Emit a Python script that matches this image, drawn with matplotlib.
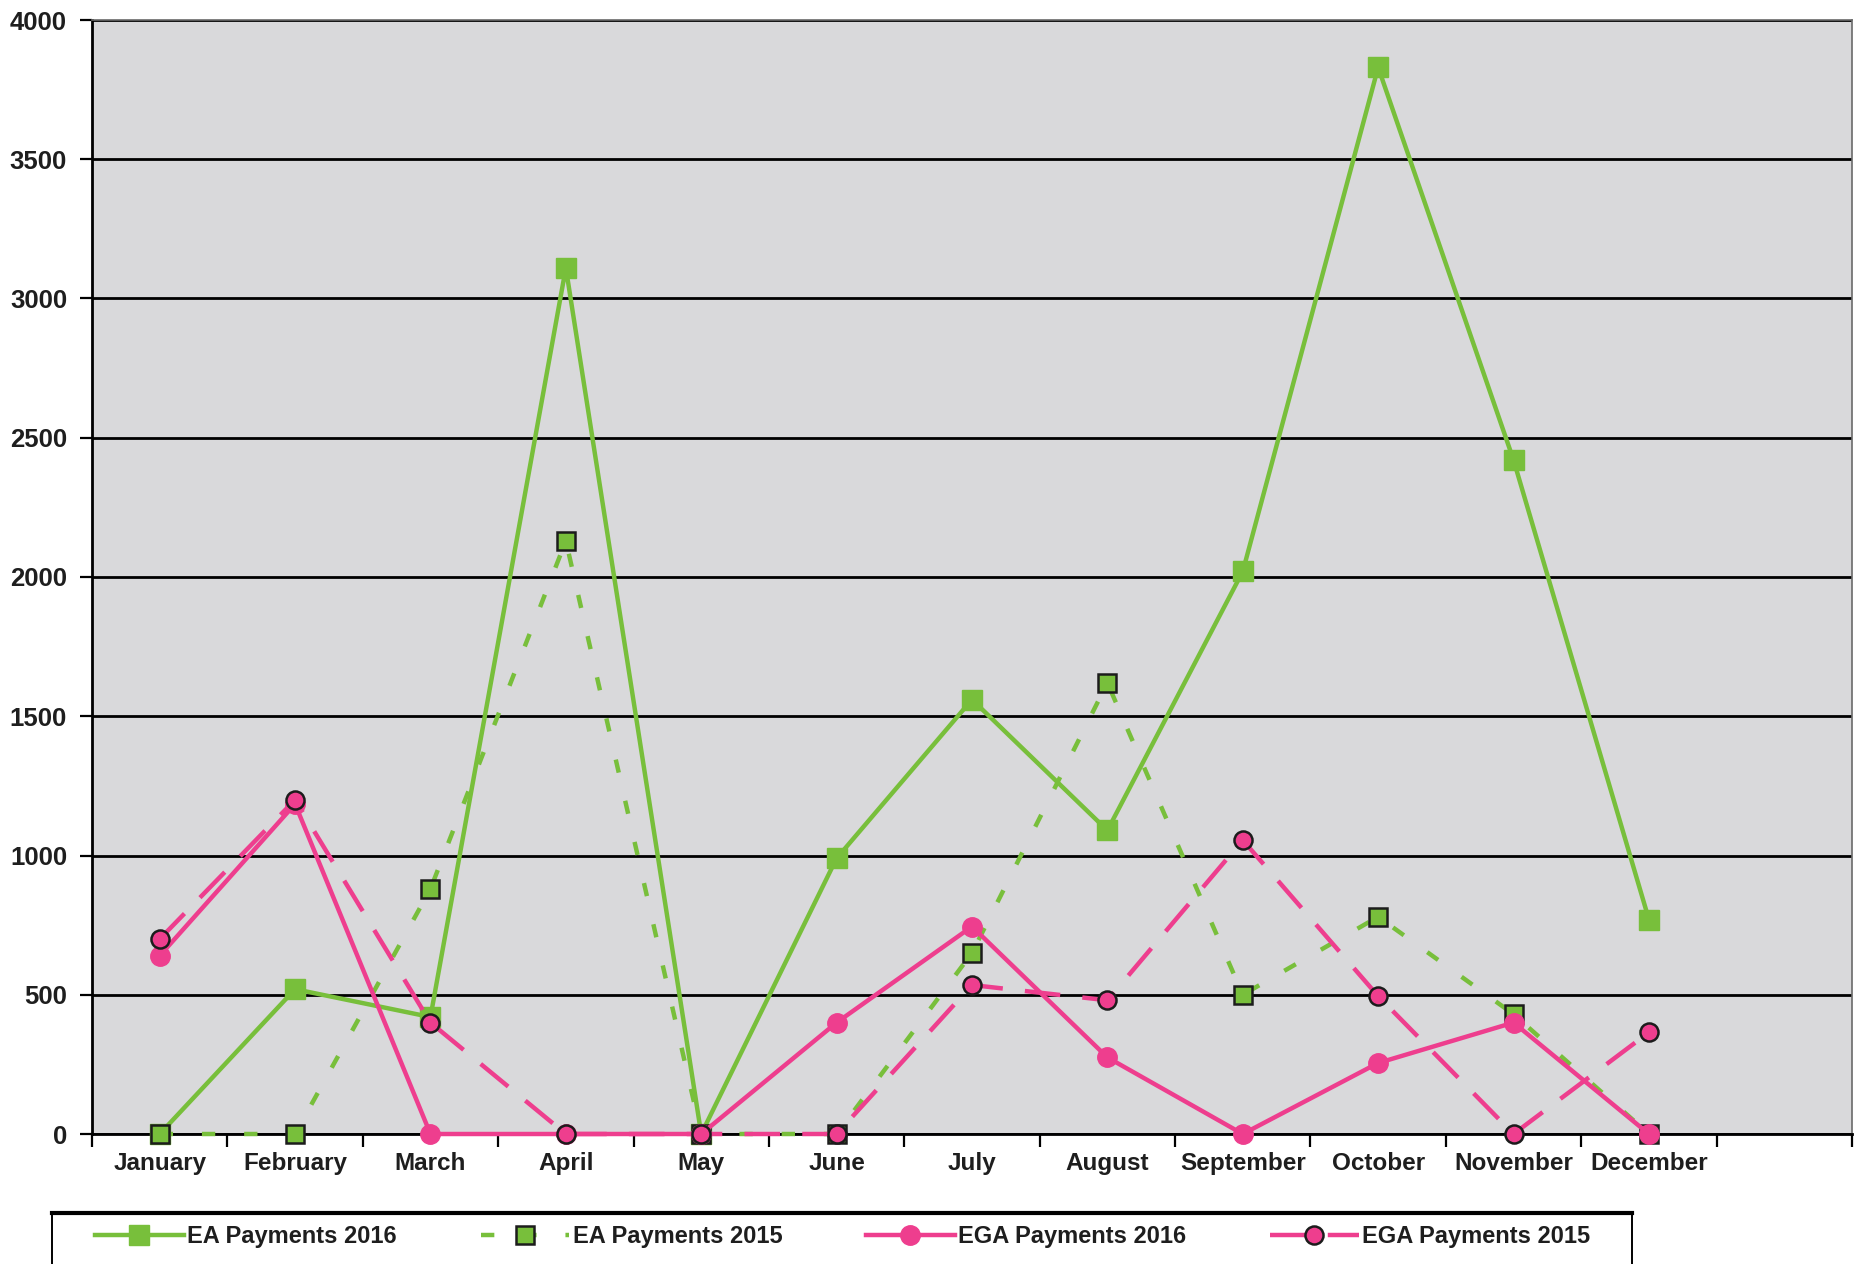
import matplotlib
matplotlib.use("Agg")
import matplotlib.pyplot as plt
from matplotlib.patches import Rectangle
from matplotlib.lines import Line2D

# Monthly payment totals
months = ["January", "February", "March", "April", "May", "June",
          "July", "August", "September", "October", "November", "December"]
ea_2016 = [0, 520, 420, 3110, 0, 990, 1560, 1090, 2020, 3830, 2420, 770]
ea_2015 = [0, 0, 880, 2130, 0, 0, 650, 1620, 500, 780, 430, 0]
ega_2016 = [640, 1185, 0, 0, 0, 400, 745, 275, 0, 255, 400, 0]
ega_2015 = [700, 1200, 400, 0, 0, 0, 535, 480, 1055, 495, 0, 365]
y_ticks = [0, 500, 1000, 1500, 2000, 2500, 3000, 3500, 4000]

GREEN = "#78bf3b"
PINK = "#ee3e8e"
EDGE = "#1c1c1c"
TEXT = "#1e1e1e"

plt.rcParams["font.family"] = ["Liberation Sans", "DejaVu Sans"]
plt.rcParams["font.weight"] = "bold"

W, H = 1860, 1264
fig = plt.figure(figsize=(W / 100, H / 100), dpi=100)
fig.patch.set_facecolor("white")

left, right, top, bottom = 92, 1852, 20, 1134
ax = fig.add_axes([left / W, 1 - bottom / H, (right - left) / W, (bottom - top) / H])
ax.set_facecolor("#d9d9db")

x = list(range(len(months)))
ax.plot(x, ea_2016, color=GREEN, lw=3.2, marker="s", ms=15, mfc=GREEN, mec=GREEN,
        label="EA Payments 2016", zorder=3, clip_on=False)
ax.plot(x, ea_2015, color=GREEN, lw=3.2, ls=(0, (3, 6.5)), marker="s", ms=13,
        mfc=GREEN, mec=EDGE, mew=1.8, label="EA Payments 2015", zorder=3, clip_on=False)
ax.plot(x, ega_2016, color=PINK, lw=3.2, marker="o", ms=14, mfc=PINK, mec=PINK,
        label="EGA Payments 2016", zorder=4, clip_on=False)
ax.plot(x, ega_2015, color=PINK, lw=3.2, ls=(0, (8, 5)), marker="o", ms=13,
        mfc=PINK, mec=EDGE, mew=1.8, label="EGA Payments 2015", zorder=4, clip_on=False)

ax.set_xlim(-0.5, 12.5)
ax.set_ylim(0, 4000)
ax.set_yticks(y_ticks)
ax.set_yticklabels([str(v) for v in y_ticks])
ax.yaxis.grid(True, color="black", lw=2)
ax.set_axisbelow(True)

ax.set_xticks(x)
ax.set_xticklabels(months)
ax.set_xticks([i - 0.5 for i in range(14)], minor=True)
ax.tick_params(axis="x", which="major", length=0, pad=13, labelsize=17.5, labelcolor=TEXT)
ax.tick_params(axis="x", which="minor", length=9, width=1.6, direction="out", color="black")
ax.tick_params(axis="y", length=9, width=1.6, pad=9, labelsize=18.5, labelcolor=TEXT)

for side in ("left", "bottom"):
    ax.spines[side].set_color("black")
    ax.spines[side].set_linewidth(2)
for side in ("top", "right"):
    ax.spines[side].set_color("#6a6a6a")
    ax.spines[side].set_linewidth(1.2)

# Legend box along the bottom edge
bx0, bx1, by0 = 52, 1632, 1213
fig.patches.append(Rectangle((bx0 / W, -0.05), (bx1 - bx0) / W, 1 - by0 / H + 0.05,
                             transform=fig.transFigure, fill=False, ec="black", lw=1.4))
fig.lines.append(Line2D([bx0 / W, bx1 / W], [1 - by0 / H, 1 - by0 / H],
                        transform=fig.transFigure, color="black", lw=3))

handles, labels = ax.get_legend_handles_labels()
leg = fig.legend(handles, labels, loc="center left", bbox_to_anchor=(95 / W, 1 - 1237 / H),
                 ncol=4, frameon=False, fontsize=17, handlelength=3.75, handletextpad=0.15,
                 columnspacing=3.55, borderpad=0, borderaxespad=0, numpoints=1)
for t in leg.get_texts():
    t.set_color(TEXT)

fig.savefig("out.png", dpi=100)
